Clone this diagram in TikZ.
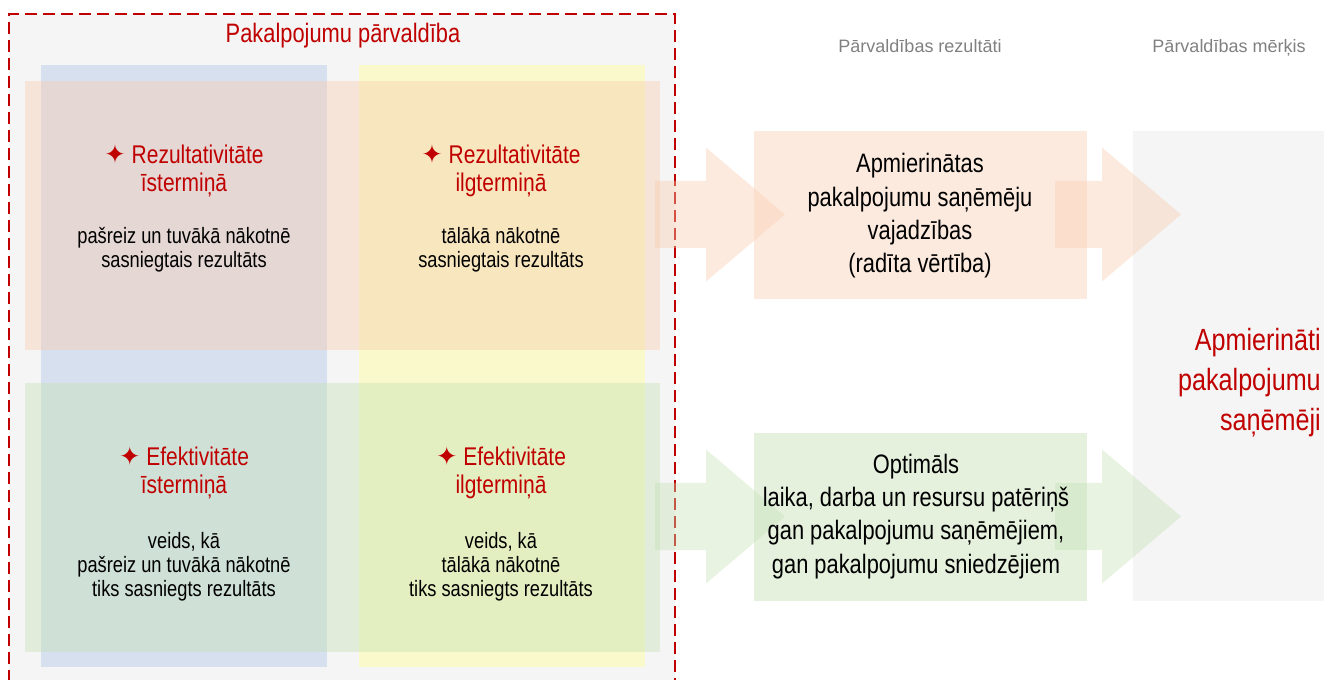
\documentclass[tikz,border=0pt]{standalone}
\usepackage{fontspec}
\setmainfont[FakeStretch=0.82]{Liberation Sans}
\newfontfamily\plainfont{Liberation Sans}
\newfontfamily\starfont{DejaVu Sans}
\definecolor{dark_red}{RGB}{192,0,0}
\definecolor{frame_gray}{RGB}{245,245,245}
\definecolor{header_gray}{RGB}{128,128,128}
\definecolor{light_blue}{RGB}{180,199,231}
\definecolor{light_yellow}{RGB}{255,255,153}
\definecolor{peach}{RGB}{248,203,173}
\definecolor{light_green}{RGB}{197,224,180}
\newcommand{\qstar}{{\starfont ✦}}

\begin{document}
\begin{tikzpicture}[x=0.75pt,y=-0.75pt,
	heading/.style={align=center,anchor=base,inner sep=0,text=dark_red,font=\fontsize{19.2}{21}\selectfont},
	detail/.style={align=center,anchor=base,inner sep=0,font=\fontsize{16.7}{18}\selectfont},
	result/.style={align=center,anchor=base,inner sep=0,font=\fontsize{20}{25}\selectfont},
	header/.style={anchor=base,inner sep=0,text=header_gray,font=\plainfont\fontsize{13.5}{16}\selectfont}]
	\useasboundingbox (0,0) rectangle (1335,680);
	\clip (0,0) rectangle (1335,680);
	\fill[frame_gray] (9,14) rectangle (675,700);
	\foreach \x/\c in {41/light_blue,359/light_yellow}
		\fill[\c,fill opacity=0.45] (\x,65) rectangle (\x+286,667);
	\foreach \y/\c in {81/peach,383/light_green}
		\fill[\c,fill opacity=0.4] (25,\y) rectangle (660,\y+269);
	\draw[dark_red,line width=1.1pt,dash pattern=on 9pt off 4.5pt] (9,700) -- (9,14) -- (675,14) -- (675,700);
	
	\fill[peach,fill opacity=0.4] (754,131) rectangle (1087,299);
	\fill[light_green,fill opacity=0.45] (754,433) rectangle (1087,601);
	\fill[frame_gray] (1133,131) rectangle (1324,601);
	
	\foreach \y/\c in {214.5/peach,516.5/light_green}
		\foreach \a/\b in {655/706,1055/1102}
			\fill[\c,fill opacity=0.4] (\a,\y-33.5) -- (\b,\y-33.5) -- (\b,\y-67) -- (\b+79,\y) -- (\b,\y+67) -- (\b,\y+33.5) -- (\a,\y+33.5) -- cycle;
	
	\node[anchor=base,inner sep=0,text=dark_red,font=\fontsize{20}{24}\selectfont] (title) at (343,43) {Pakalpojumu pārvaldība};
	\node[header] (results_header) at (920,53) {Pārvaldības rezultāti};
	\node[header] (goal_header) at (1229,53) {Pārvaldības mērķis};
	
	\node[heading] (res_short) at (184,192) {\qstar{} Rezultativitāte\\īstermiņā};
	\node[heading] (res_long) at (501,192) {\qstar{} Rezultativitāte\\ilgtermiņā};
	\node[heading] (eff_short) at (184,494) {\qstar{} Efektivitāte\\īstermiņā};
	\node[heading] (eff_long) at (501,494) {\qstar{} Efektivitāte\\ilgtermiņā};
	
	\node[detail] (res_short_text) at (184,268) {pašreiz un tuvākā nākotnē\\sasniegtais rezultāts};
	\node[detail] (res_long_text) at (501,268) {tālākā nākotnē\\sasniegtais rezultāts};
	\node[detail] (eff_short_text) at (184,596) {veids, kā\\pašreiz un tuvākā nākotnē\\tiks sasniegts rezultāts};
	\node[detail] (eff_long_text) at (501,596) {veids, kā\\tālākā nākotnē\\tiks sasniegts rezultāts};
	
	\node[result] (needs) at (920,273) {Apmierinātas\\pakalpojumu saņēmēju\\vajadzības\\(radīta vērtība)};
	\node[result] (usage) at (916,573) {Optimāls\\laika, darba un resursu patēriņš\\gan pakalpojumu saņēmējiem,\\gan pakalpojumu sniedzējiem};
	\node[align=right,anchor=base east,inner sep=0,text=dark_red,font=\fontsize{23}{30}\selectfont] (goal) at (1321,431) {Apmierināti\\pakalpojumu\\saņēmēji};
\end{tikzpicture}
\end{document}
